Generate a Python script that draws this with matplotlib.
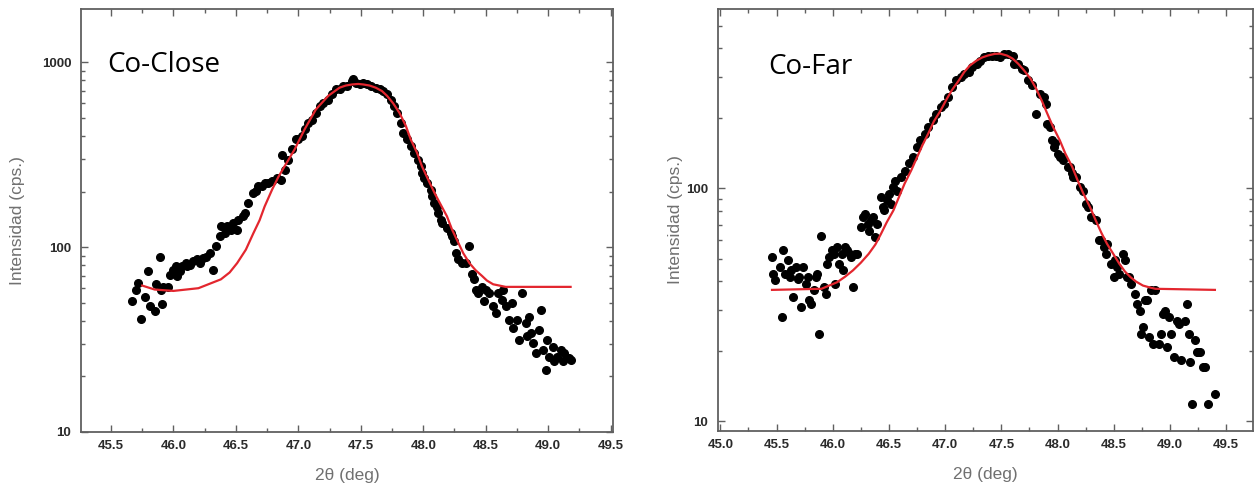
import matplotlib
matplotlib.use("Agg")
import matplotlib.pyplot as plt
import matplotlib.ticker as mticker
import numpy as np

# ---------------- Datos ----------------
# Co-Close: puntos experimentales
closeX = [45.67, 45.70, 45.72, 45.74, 45.77, 45.80, 45.81, 45.85, 45.86, 45.89,
          45.90, 45.91, 45.92, 45.96, 45.97, 46.00, 46.02, 46.03, 46.05, 46.07,
          46.10, 46.11, 46.13, 46.16, 46.19, 46.21, 46.24, 46.26, 46.29, 46.32,
          46.34, 46.37, 46.38, 46.41, 46.43, 46.46, 46.48, 46.51, 46.52, 46.56,
          46.57, 46.60, 46.64, 46.66, 46.68, 46.71, 46.73, 46.76, 46.79, 46.83,
          46.86, 46.87, 46.89, 46.92, 46.95, 46.98, 47.00, 47.03, 47.05, 47.08,
          47.11, 47.14, 47.17, 47.20, 47.24, 47.27, 47.30, 47.33, 47.36, 47.39,
          47.43, 47.44, 47.46, 47.49, 47.52, 47.55, 47.58, 47.62, 47.65, 47.68,
          47.71, 47.74, 47.77, 47.79, 47.82, 47.84, 47.87, 47.90, 47.93, 47.96,
          47.98, 47.99, 48.01, 48.03, 48.06, 48.07, 48.09, 48.11, 48.12, 48.14,
          48.15, 48.19, 48.22, 48.23, 48.25, 48.26, 48.28, 48.31, 48.34, 48.37,
          48.39, 48.41, 48.42, 48.44, 48.47, 48.49, 48.50, 48.53, 48.56, 48.58,
          48.60, 48.63, 48.64, 48.66, 48.69, 48.71, 48.72, 48.75, 48.77, 48.79,
          48.82, 48.83, 48.85, 48.86, 48.88, 48.90, 48.93, 48.94, 48.96, 48.98,
          48.99, 49.01, 49.04, 49.05, 49.07, 49.10, 49.12, 49.13, 49.17, 49.18]
closeY = [51, 59, 64, 41, 54, 74, 48, 45, 63, 88,
          59, 49, 61, 61, 71, 75, 79, 70, 74, 79,
          82, 79, 80, 84, 86, 82, 87, 89, 93, 75,
          101, 115, 130, 119, 130, 124, 135, 124, 141, 147,
          153, 174, 197, 201, 214, 214, 223, 223, 228, 237,
          232, 317, 263, 298, 338, 383, 383, 399, 434, 471,
          491, 533, 580, 604, 630, 671, 714, 714, 745, 750,
          790, 809, 776, 760, 776, 760, 745, 730, 714, 700,
          671, 630, 580, 533, 471, 416, 383, 352, 324, 298,
          274, 252, 237, 223, 205, 189, 174, 166, 153, 141,
          135, 127, 119, 115, 108, 93, 86, 82, 82, 101,
          72, 67, 59, 56.5, 61, 51, 59, 56.5, 48, 44,
          56.5, 52, 59, 48, 40.5, 50, 36.5, 40.5, 31.5, 56.5,
          39, 32.9, 42, 34.3, 30.3, 26.7, 35.7, 46, 27.8, 21.7,
          31.5, 25.6, 29, 24.1, 25.6, 27.8, 24.1, 26.7, 25.1, 24.6]
# Co-Close: curva de ajuste (roja)
closeFitX = [45.75, 45.85, 46.00, 46.20, 46.38, 46.45, 46.51, 46.58, 46.64, 46.69,
             46.73, 46.79, 46.84, 46.89, 46.97, 47.05, 47.14, 47.24, 47.33, 47.38,
             47.43, 47.48, 47.52, 47.57, 47.62, 47.67, 47.71, 47.76, 47.81, 47.86,
             47.90, 47.95, 47.99, 48.04, 48.09, 48.14, 48.19, 48.23, 48.28, 48.32,
             48.37, 48.42, 48.47, 48.51, 48.56, 48.61, 48.66, 49.18]
closeFitY = [62, 59, 58, 60, 67, 73, 82, 97, 119, 140,
             166, 205, 240, 274, 338, 434, 556, 660, 730, 750,
             760, 765, 760, 750, 730, 700, 660, 600, 533, 455,
             383, 325, 274, 232, 197, 170, 147, 125, 106, 93,
             82, 75, 70, 66, 63, 62, 61, 61]

# Co-Far: puntos experimentales
farX = [45.46, 45.47, 45.49, 45.53, 45.55, 45.56, 45.58, 45.60, 45.62, 45.63,
        45.65, 45.67, 45.69, 45.70, 45.72, 45.74, 45.76, 45.78, 45.79, 45.81,
        45.83, 45.85, 45.86, 45.88, 45.90, 45.92, 45.94, 45.95, 45.97, 45.99,
        46.01, 46.02, 46.04, 46.06, 46.08, 46.09, 46.11, 46.13, 46.15, 46.16,
        46.18, 46.20, 46.22, 46.25, 46.27, 46.29, 46.31, 46.32, 46.34, 46.36,
        46.38, 46.39, 46.43, 46.45, 46.46, 46.48, 46.50, 46.52, 46.54, 46.55,
        46.57, 46.61, 46.64, 46.68, 46.71, 46.75, 46.78, 46.82, 46.85, 46.89,
        46.92, 46.96, 46.99, 47.03, 47.06, 47.10, 47.14, 47.17, 47.21, 47.24,
        47.28, 47.31, 47.35, 47.38, 47.42, 47.45, 47.49, 47.52, 47.56, 47.60,
        47.61, 47.65, 47.68, 47.70, 47.74, 47.77, 47.81, 47.84, 47.88, 47.90,
        47.91, 47.93, 47.95, 47.97, 47.98, 48.00, 48.02, 48.04, 48.05, 48.09,
        48.11, 48.13, 48.14, 48.16, 48.20, 48.23, 48.25, 48.27, 48.30, 48.34,
        48.37, 48.39, 48.41, 48.43, 48.44, 48.48, 48.50, 48.51, 48.53, 48.55,
        48.58, 48.60, 48.62, 48.64, 48.65, 48.69, 48.71, 48.73, 48.74, 48.76,
        48.78, 48.80, 48.81, 48.83, 48.85, 48.87, 48.90, 48.92, 48.94, 48.96,
        48.97, 48.99, 49.01, 49.04, 49.06, 49.08, 49.10, 49.13, 49.17, 49.18,
        49.22, 49.24, 49.25, 49.27, 49.29, 49.31, 49.20, 49.34, 49.40, 49.15]
farY = [50.7, 43.0, 40.3, 45.9, 28.0, 54.2, 43.0, 49.1, 41.6, 44.5,
        34.2, 45.9, 41.0, 41.6, 31.0, 45.9, 39.0, 41.6, 33.1, 32.0,
        36.5, 41.6, 43.0, 23.8, 62.8, 37.7, 35.3, 47.5, 50.7, 54.2,
        52.4, 39.0, 56.0, 47.5, 52.4, 44.5, 56.0, 54.2, 52.4, 50.7,
        37.7, 52.4, 52.4, 68.2, 75.4, 77.9, 70.5, 66.0, 72.9, 75.4,
        61.8, 70.5, 92, 83, 80.5, 89, 95, 86, 101, 108,
        98, 112, 119, 128, 136, 151, 161, 172, 183, 196,
        209, 223, 231, 247, 272, 291, 301, 311, 316, 332,
        343, 354, 366, 372, 372, 372, 366, 379, 379, 372,
        343, 343, 327, 322, 291, 277, 209, 255, 247, 231,
        190, 183, 161, 151, 156, 141, 136, 136, 132, 124,
        124, 116, 112, 112, 101, 98, 86, 83, 75.4, 72.9,
        59.8, 59.8, 56.0, 52.4, 57.9, 47.5, 41.6, 49.1, 45.9, 43.0,
        52.4, 49.1, 41.6, 41.6, 39.0, 35.3, 32.0, 29.9, 23.8, 25.4,
        33.1, 33.1, 23.0, 36.5, 21.6, 36.5, 21.6, 23.8, 29.0, 29.9,
        20.9, 28.0, 23.8, 18.9, 27.1, 26.3, 18.3, 27.1, 23.8, 18.0,
        22.3, 19.9, 19.9, 19.9, 17.1, 17.1, 11.9, 11.9, 13.1, 31.8]
# Co-Far: curva de ajuste (roja)
farFitX = [45.46, 45.90, 46.04, 46.11, 46.18, 46.25, 46.32, 46.38, 46.43, 46.48,
           46.54, 46.59, 46.64, 46.70, 46.75, 46.80, 46.85, 46.90, 46.96, 47.01,
           47.06, 47.12, 47.17, 47.22, 47.28, 47.33, 47.38, 47.44, 47.49, 47.55,
           47.60, 47.65, 47.70, 47.76, 47.81, 47.86, 47.91, 47.96, 48.02, 48.07,
           48.13, 48.18, 48.23, 48.29, 48.34, 48.39, 48.44, 48.50, 48.55, 48.60,
           48.65, 48.70, 48.76, 48.82, 48.87, 49.40]
farFitY = [36.7, 37.1, 39.6, 41.8, 44.5, 48, 52.4, 57.5, 63.9, 71.5,
           80.5, 92, 105, 120, 136, 154, 172, 194, 216, 240,
           264, 290, 316, 337, 354, 365, 372, 378, 379, 372,
           361, 343, 322, 296, 268, 238, 209, 184, 161, 141,
           124, 108, 95, 83, 72.9, 64.5, 57.9, 52, 47.5, 44,
           41.6, 39.8, 38.3, 37.6, 37.1, 36.7]

# ---------------- Estilo ----------------
spineColor = '#606060'
tickColor = '#2a2a2a'
labelColor = '#707070'
fitColor = '#e3262e'


def styleAxis(ax, xlim, ylim, yLabelX):
    """Aplica el estilo comun a un panel."""
    ax.set_yscale('log')
    ax.set_xlim(*xlim)
    ax.set_ylim(*ylim)
    ax.xaxis.set_major_locator(mticker.MultipleLocator(0.5))
    ax.xaxis.set_minor_locator(mticker.MultipleLocator(0.25))
    ax.xaxis.set_major_formatter(mticker.FormatStrFormatter('%.1f'))
    ax.yaxis.set_major_locator(mticker.LogLocator(base=10))
    ax.yaxis.set_minor_locator(mticker.LogLocator(base=10, subs=np.arange(2, 10)))
    ax.yaxis.set_major_formatter(mticker.FuncFormatter(lambda v, p: '%d' % v))
    ax.yaxis.set_minor_formatter(mticker.NullFormatter())
    ax.tick_params(which='both', direction='in', top=True, right=True,
                   colors=spineColor, labelcolor=tickColor, labelsize=9.5, width=1)
    ax.tick_params(which='major', length=5)
    ax.tick_params(which='minor', length=3)
    ax.tick_params(axis='x', which='major', pad=6)
    ax.tick_params(axis='y', which='major', pad=7)
    for lbl in ax.get_xticklabels() + ax.get_yticklabels():
        lbl.set_fontweight('bold')
        lbl.set_family('Liberation Sans')
    for sp in ax.spines.values():
        sp.set_color(spineColor)
        sp.set_linewidth(1.3)
    ax.set_xlabel('2θ (deg)', color=labelColor, fontsize=12.5, family='Liberation Sans')
    ax.set_ylabel('Intensidad (cps.)', color=labelColor, fontsize=12.5, family='Liberation Sans')
    ax.xaxis.set_label_coords(0.5, -0.085)
    ax.yaxis.set_label_coords(yLabelX, 0.5)


fig = plt.figure(figsize=(12.56, 4.92), dpi=100)
axClose = fig.add_axes([0.0645, 0.122, 0.4236, 0.860])
axFar = fig.add_axes([0.5717, 0.124, 0.426, 0.858])

axClose.plot(closeX, closeY, 'o', color='black', markersize=5.5, zorder=3)
axClose.plot(closeFitX, closeFitY, '-', color=fitColor, linewidth=1.6, zorder=4)
styleAxis(axClose, (45.26, 49.52), (10, 1950), -0.105)
axClose.text(0.049, 0.868, 'Co-Close', transform=axClose.transAxes,
             fontsize=20, family='Open Sans', va='center', ha='left')

axFar.plot(farX, farY, 'o', color='black', markersize=5.5, zorder=3)
axFar.plot(farFitX, farFitY, '-', color=fitColor, linewidth=1.6, zorder=4)
styleAxis(axFar, (44.98, 49.74), (9.1, 590), -0.065)
axFar.text(0.093, 0.863, 'Co-Far', transform=axFar.transAxes,
           fontsize=20, family='Open Sans', va='center', ha='left')

fig.savefig('out.png', dpi=100)
